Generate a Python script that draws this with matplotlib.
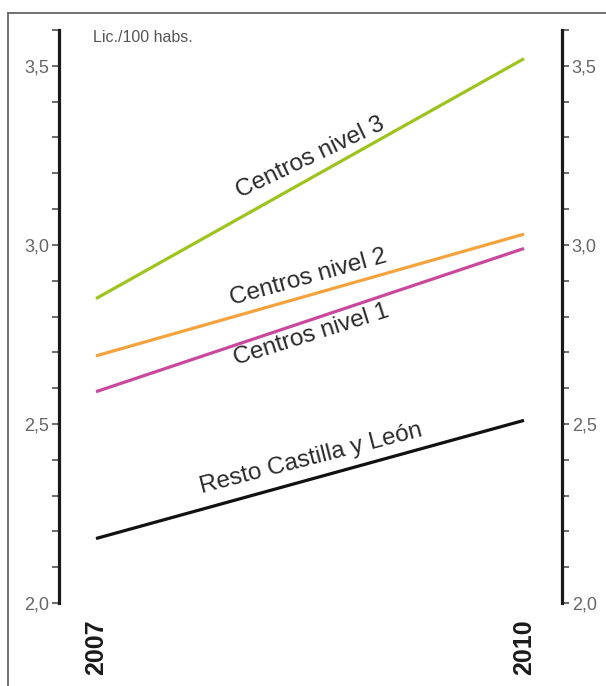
import matplotlib
matplotlib.use("Agg")
import matplotlib.pyplot as plt
from matplotlib.lines import Line2D
import numpy as np

plt.rcParams['font.family'] = ['Liberation Sans', 'DejaVu Sans']

years = [2007, 2010]
series_names = ["Centros nivel 3", "Centros nivel 2", "Centros nivel 1", "Resto Castilla y León"]
nivel3 = [2.85, 3.52]
nivel2 = [2.69, 3.03]
nivel1 = [2.59, 2.99]
resto = [2.18, 2.51]
colors = ["#9dc41e", "#f6a23d", "#c9489c", "#111111"]
ytick_vals = [2.0, 2.5, 3.0, 3.5]
ytick_labels = ["2,0", "2,5", "3,0", "3,5"]
unit_label = "Lic./100 habs."

W, H = 606, 686
fig = plt.figure(figsize=(W/100, H/100), dpi=100)
ax = fig.add_axes([59/W, (H-603)/H, (562-59)/W, (603-30)/H])

xmin = 2007 - 37/142.67
xmax = 2010 + 38/142.67
ax.set_xlim(xmin, xmax)
ax.set_ylim(2.0, 3.6)

series = [nivel3, nivel2, nivel1, resto]
for vals, c in zip(series, colors):
    ax.plot(years, vals, color=c, lw=2.3, solid_capstyle='butt')

# label placement: (x on line, offset in pt, rotation)
label_style = [
    (2008.52, 10.0, 25.5),
    (2008.5, 8.3, 15.5),
    (2008.52, -15.8, 17.5),
    (2008.52, 10.0, 14.5),
]
for name, vals, (lx, off, rot) in zip(series_names, series, label_style):
    ly = vals[0] + (vals[1]-vals[0])*(lx-years[0])/(years[1]-years[0])
    ax.annotate(name, xy=(lx, ly), xytext=(0, off), textcoords='offset points',
                rotation=rot, rotation_mode='anchor', ha='center', va='baseline',
                fontsize=17.5, color='#2a2a2a')

for s in ['top', 'bottom']:
    ax.spines[s].set_visible(False)
for s in ['left', 'right']:
    ax.spines[s].set_linewidth(2.3)
    ax.spines[s].set_color('#1a1a1a')

ax.set_yticks(ytick_vals)
ax.set_yticklabels(ytick_labels)
ax.set_yticks(np.round(np.arange(2.1, 3.61, 0.1), 2), minor=True)
ax.tick_params(axis='y', which='both', left=True, right=True, labelleft=True, labelright=True,
               length=5, width=1.1, color='#444444', direction='out', labelsize=13,
               labelcolor='#666666', pad=2)

ax.set_xticks(years)
ax.set_xticklabels([str(y) for y in years], rotation=90, fontsize=18, fontweight='bold',
                   color='#1a1a1a', va='top')
ax.tick_params(axis='x', length=0, pad=12)

fig.text(93/W, 1-38/H, unit_label, fontsize=11.5, color='#555555', ha='left', va='center')

# outer frame
fig.add_artist(Line2D([8/W, 8/W], [0, 1-13/H], transform=fig.transFigure, color='#666666', lw=1.3))
fig.add_artist(Line2D([8/W, 1], [1-13/H, 1-13/H], transform=fig.transFigure, color='#666666', lw=1.3))

fig.savefig("out.png", dpi=100)
